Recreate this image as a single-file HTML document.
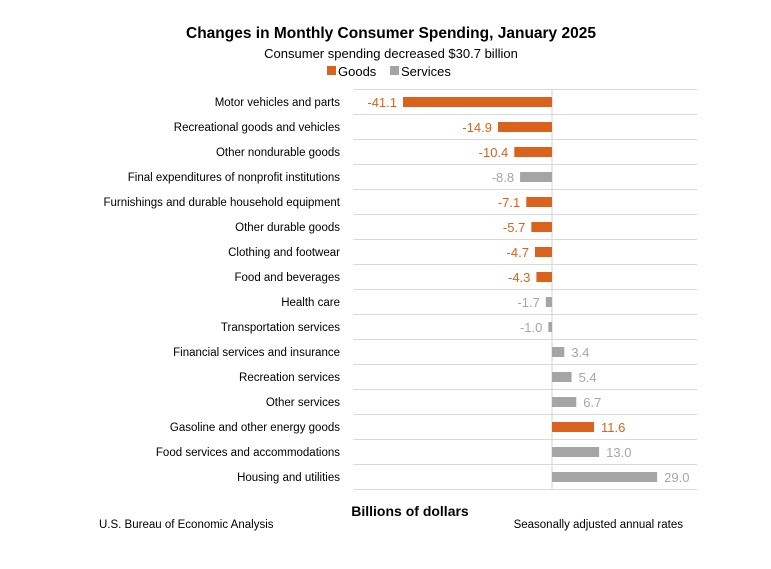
<!DOCTYPE html>
<html><head><meta charset="utf-8"><style>
body{margin:0;background:#fff;font-family:"Liberation Sans",sans-serif;}
svg text{font-family:"Liberation Sans",sans-serif;}
</style></head><body>
<svg width="771" height="564">
<text x="391" y="38" text-anchor="middle" font-size="15.5" font-weight="bold" fill="#000">Changes in Monthly Consumer Spending, January 2025</text>
<text x="391" y="58" text-anchor="middle" font-size="13" fill="#000">Consumer spending decreased $30.7 billion</text>
<g>
<rect x="327" y="66" width="9" height="9" fill="#d9621d"/>
<text x="338" y="76" font-size="13">Goods</text>
<rect x="390" y="66" width="9" height="9" fill="#a5a5a5"/>
<text x="401" y="76" font-size="13">Services</text>
</g>
<g id="plot"></g>
<text x="410" y="516" text-anchor="middle" font-size="14" font-weight="bold">Billions of dollars</text>
<text x="99" y="528" font-size="11.5">U.S. Bureau of Economic Analysis</text>
<text x="683" y="528" text-anchor="end" font-size="11.5">Seasonally adjusted annual rates</text>
</svg>
<script>
const categories=["Motor vehicles and parts","Recreational goods and vehicles","Other nondurable goods","Final expenditures of nonprofit institutions","Furnishings and durable household equipment","Other durable goods","Clothing and footwear","Food and beverages","Health care","Transportation services","Financial services and insurance","Recreation services","Other services","Gasoline and other energy goods","Food services and accommodations","Housing and utilities"];
const values=[-41.1,-14.9,-10.4,-8.8,-7.1,-5.7,-4.7,-4.3,-1.7,-1.0,3.4,5.4,6.7,11.6,13.0,29.0];
const types=["g","g","g","s","g","g","g","g","s","s","s","s","s","g","s","s"];
const NS="http://www.w3.org/2000/svg";
const plotG=document.getElementById('plot');
const x0=552,scale=3.625,plotTop=89.5,rowH=25,plotLeft=353,plotRight=697;
const xs=v=>x0+v*scale;
const ys=i=>plotTop+i*rowH;
function mk(tag,attrs){const e=document.createElementNS(NS,tag);for(const k in attrs)e.setAttribute(k,attrs[k]);plotG.appendChild(e);return e;}
for(let i=0;i<=categories.length;i++){
 const l=mk('line',{x1:plotLeft,x2:plotRight,y1:ys(i),y2:ys(i),stroke:'#d9d9d9','stroke-width':1});
 
 
}
const z=mk('line',{x1:x0,x2:x0,y1:ys(0),y2:ys(categories.length),stroke:'#d9d9d9','stroke-width':1.2});


categories.forEach((c,i)=>{
 const cy=ys(i)+rowH/2;
 const col=types[i]=='g'?'#d9621d':'#a5a5a5';
 const tcol=types[i]=='g'?'#d9621d':'#a6a6a6';
 const v=values[i];
 const lab=mk('text',{x:340,y:cy+4,'text-anchor':'end','font-size':'11.5',fill:'#000'});
 lab.textContent=c;
 
 
 const b=mk('rect',{x:Math.min(xs(v),x0),y:cy-5,width:Math.abs(xs(v)-x0),height:10,fill:col});
 
 
 const t=mk('text',{x:v<0?xs(v)-6:xs(v)+7,y:cy+5,'text-anchor':v<0?'end':'start','font-size':'13',fill:tcol});
 t.textContent=v.toFixed(1);
 
 
});
</script>
</body></html>
